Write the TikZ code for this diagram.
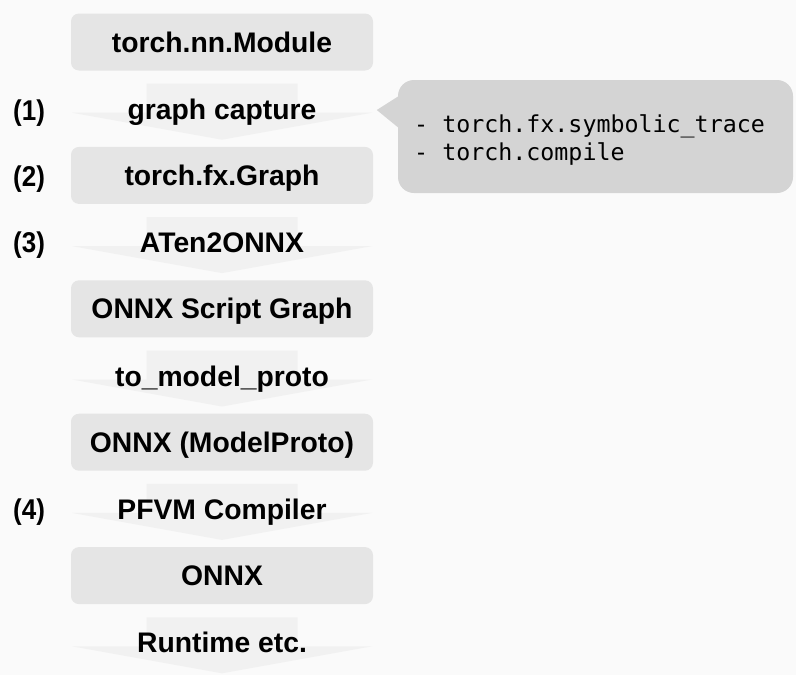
\documentclass[tikz,border=0pt]{standalone}
\usepackage{fontspec}
\setmainfont{Liberation Sans}
\setmonofont{DejaVu Sans Mono}
\usetikzlibrary{calc}
\definecolor{bgc}{HTML}{FAFAFA}
\definecolor{boxc}{HTML}{E5E5E5}
\definecolor{arrc}{HTML}{F1F1F1}
\definecolor{callc}{HTML}{D4D4D4}
\newcommand\blockarrow[1]{%
  \fill[arrc] ($(#1.south)+(-75.5,13)$) -- ($(#1.south)+(75.5,13)$) -- ($(#1.south)+(75.5,42)$)
    -- ($(#1.south)+(150,42)$) -- ($(#1.south)+(0,69)$) -- ($(#1.south)+(-150,42)$)
    -- ($(#1.south)+(-75.5,42)$) -- cycle;}
\newcommand\tallnum[1]{\scalebox{1}[1.1]{#1}}
\begin{document}
\begin{tikzpicture}[x=1pt,y=-1pt,
  box/.style={fill=boxc, rounded corners=8pt, minimum width=302pt, minimum height=57pt,
    inner sep=0pt, font=\fontsize{28.3}{30}\selectfont\bfseries, text height=20.3pt, text depth=0pt},
  lbl/.style={inner sep=0pt, font=\fontsize{28.3}{30}\selectfont\bfseries, text height=20.3pt, text depth=0pt},
  num/.style={inner sep=0pt, anchor=base west, font=\fontsize{26}{28}\selectfont\bfseries},
  mono/.style={inner sep=0pt, anchor=base west, font=\fontsize{23.3}{28}\selectfont\ttfamily}]
\fill[bgc] (0,0) rectangle (796,675);
\useasboundingbox (0,0) rectangle (796,675);
\node[box] (b1) at (222,42) {torch.nn.Module};
\node[box] (b2) at (222,175.4) {torch.fx.Graph};
\node[box] (b3) at (222,308.8) {ONNX Script Graph};
\node[box] (b4) at (222,442.2) {ONNX (ModelProto)};
\node[box] (b5) at (222,575.6) {ONNX};
\blockarrow{b1}
\blockarrow{b2}
\blockarrow{b3}
\blockarrow{b4}
\blockarrow{b5}
\node[lbl] (l1) at ($(b1.south)+(0,38.5)$) {graph capture};
\node[lbl] (l2) at ($(b2.south)+(0,38.5)$) {ATen2ONNX};
\node[lbl] (l3) at ($(b3.south)+(0,38.5)$) {to\_model\_proto};
\node[lbl] (l4) at ($(b4.south)+(0,38.5)$) {PFVM Compiler};
\node[lbl] (l5) at ($(b5.south)+(0,38.5)$) {Runtime etc.};
\node[num] (n1) at (13,120) {\tallnum{(1)}};
\node[num] (n2) at (13,186.5) {\tallnum{(2)}};
\node[num] (n3) at (13,252.3) {\tallnum{(3)}};
\node[num] (n4) at (13,519) {\tallnum{(4)}};
\node[fill=callc, rounded corners=16pt, minimum width=395pt, minimum height=113pt, inner sep=0pt] (cb) at (595.5,136.5) {};
\coordinate (tip) at ($(cb.west)+(-21,-26.5)$);
\fill[callc] ($(cb.west)+(1,-40.5)$) -- (tip) -- ($(cb.west)+(1,-8.5)$) -- cycle;
\node[mono] (c1) at (414,132) {- torch.fx.symbolic\_trace};
\node[mono] (c2) at (414,160) {- torch.compile};
\end{tikzpicture}
\end{document}
